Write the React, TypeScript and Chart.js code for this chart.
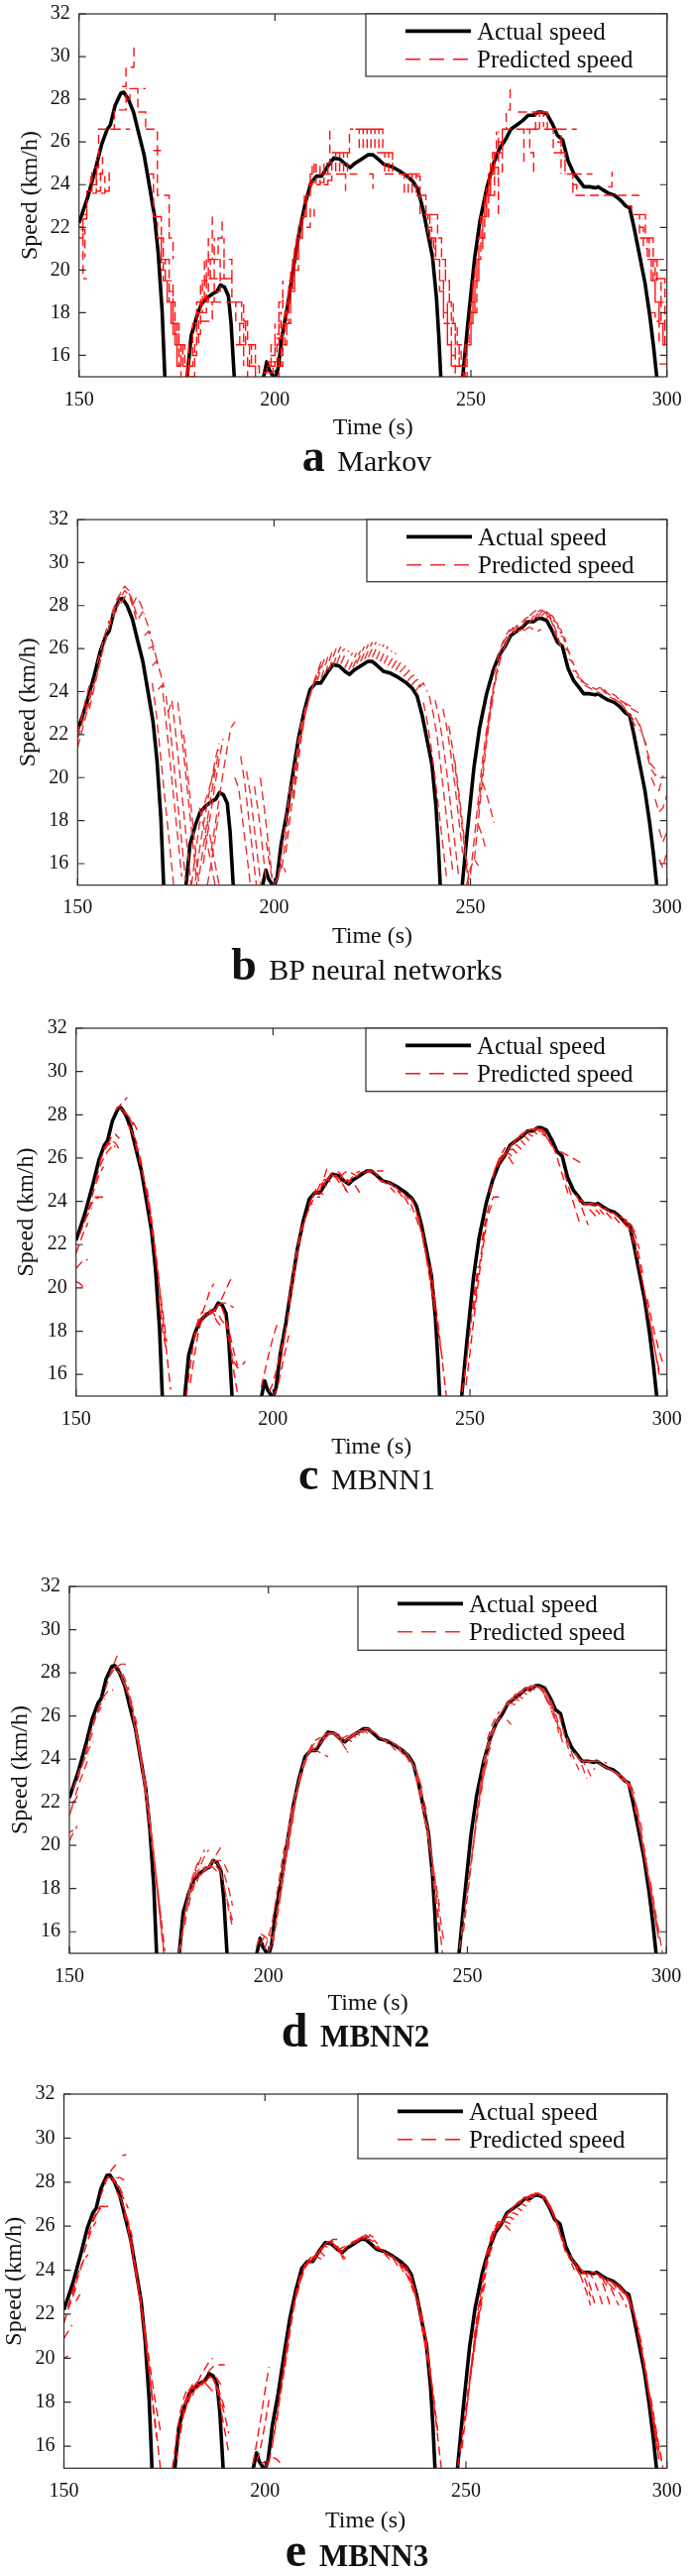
import React, { useEffect, useRef } from 'react';
import { Chart, registerables } from 'chart.js';

Chart.register(...registerables);

// ---------------- DATA ----------------
const actualTime = [150, 152.2, 154.3, 155.8, 157.2, 158, 159.2, 160.7, 161.4, 162.6, 163.9, 165.1, 166.6, 168, 169.2, 170.2, 171.2, 171.9, 173, 176.5, 177.6, 178.6, 180, 181.2, 182.7, 184.2, 185.2, 186.1, 187.1, 188.1, 188.8, 189.6, 190.8, 196, 197.1, 197.9, 198.6, 200, 200.8, 201.8, 203.3, 204.8, 206.2, 207.7, 209.2, 210.6, 211.9, 213.6, 215, 216.5, 218, 219.2, 220.4, 222.1, 223.8, 225, 226.3, 227.8, 229.7, 231.7, 233.7, 235.2, 236.4, 237.7, 238.9, 240.2, 241.2, 241.8, 242.3, 243.3, 246.8, 247.9, 249.2, 250.9, 252.3, 254.1, 255.8, 257.3, 258.8, 260.2, 261.7, 263.2, 264.6, 266, 267.1, 268.1, 269.4, 270.9, 272.1, 273.4, 274.8, 276.3, 277.6, 278.8, 280.3, 281.8, 282.5, 283.7, 285.1, 286.6, 288, 289.5, 290.5, 291.6, 292.9, 294.4, 295.6, 296.6, 297.4, 298.4, 300];
const actualSpeed = [22.2, 23.4, 24.8, 25.9, 26.6, 26.8, 27.7, 28.3, 28.33, 28.0, 27.4, 26.5, 25.4, 23.9, 22.6, 20.8, 18.1, 15.0, 11.5, 11.5, 15.0, 16.9, 17.8, 18.4, 18.7, 18.9, 19.0, 19.3, 19.2, 18.8, 17.5, 15.0, 11.5, 11.5, 15.0, 15.7, 15.3, 14.9, 15.4, 16.9, 18.4, 20.2, 21.8, 23.1, 24.1, 24.4, 24.4, 24.9, 25.25, 25.2, 24.95, 24.8, 25.0, 25.2, 25.4, 25.4, 25.2, 24.95, 24.85, 24.65, 24.4, 24.15, 23.8, 22.9, 21.8, 20.6, 18.7, 16.9, 15.0, 11.5, 11.5, 15.0, 17.5, 20.5, 22.3, 23.9, 25.0, 25.7, 26.1, 26.6, 26.8, 27.0, 27.25, 27.25, 27.4, 27.4, 27.3, 26.8, 26.3, 26.1, 25.1, 24.5, 24.2, 23.9, 23.9, 23.85, 23.9, 23.75, 23.6, 23.5, 23.3, 23.0, 22.9, 22.0, 20.8, 19.4, 17.9, 16.4, 15.0, 11.5, 9.0];

const xTickValues = [150, 200, 250, 300];
const yTickValues = [16, 18, 20, 22, 24, 26, 28, 30, 32];
const legendLabels = ['Actual speed', 'Predicted speed'];
const xAxisTitle = 'Time (s)';
const yAxisTitle = 'Speed (km/h)';
const panelLetters = ['a', 'b', 'c', 'd', 'e'];
const panelNames = ['Markov', 'BP neural networks', 'MBNN1', 'MBNN2', 'MBNN3'];

// predicted segments: [start time, values at 1 s steps]
type Seg = [number, number[]];

const predMarkov: Seg[] = [
  [150, [22.0, 19.6, 19.6]], [150, [21.5, 22.6, 23.2]], [151, [22.4, 23.7, 24.6]], [150.5, [21.9, 20.6]],
  [152.3, [23.7, 24.7]], [153.4, [23.6, 24.5]], [154.5, [23.7, 24.8]], [155.6, [23.6, 24.4]], [156.7, [23.7, 24.6]],
  [153.5, [24.0, 25.2]], [155, [24.5, 25.3]],
  [154, [24.8, 26.6, 26.6, 26.6, 26.6, 26.6, 26.6, 26.6, 26.6, 26.6]],
  [158, [26.6, 27.5, 27.5, 27.5, 28.5]],
  [162, [28.0, 28.5, 28.5, 28.5, 28.5, 28.5]],
  [161, [28.6, 29.5, 29.5, 30.6]],
  [164, [28.5, 27.4, 27.4, 26.6, 26.6, 26.6]],
  [167, [26.6, 26.6, 26.6, 25.6, 25.6]],
  [168, [24.5, 22.5, 21.5, 20.5, 19.5]],
  [169, [25.6, 23.5, 23.5, 23.5, 21.5, 20.5]],
  [170, [22.5, 20.0, 19.5, 19.5, 17.5, 15.5]],
  [170.5, [21.5, 19.5, 18.5, 17.5, 16.5]],
  [171.5, [19.5, 18.5, 17.5, 16.5, 15.5]],
  [172, [20.5, 18.5, 17.0, 15.5, 15.5, 15.5]],
  [173, [19.0, 17.0, 15.5, 15.5]],
  [173.5, [18.5, 17.5, 16.5, 15.5]],
  [174, [17.5, 16.5, 15.0]],
  [174.5, [17.5, 16.5, 15.5, 15.0]],
  [175, [16.5, 15.5, 15.5, 15.0]],
  [176, [16.5, 15.5, 15.0]],
  [177, [15.0, 16.5, 17.5, 18.5, 18.5]],
  [178, [15.5, 17.0, 18.0, 19.0]],
  [178.5, [15.0, 16.5, 18.0, 19.5, 20.5]],
  [179, [16.0, 18.5, 19.5, 20.5, 21.5]],
  [180, [17.0, 18.5, 19.5, 20.5, 22.5]],
  [181, [17.6, 17.6, 17.6, 18.5]],
  [181.5, [18.0, 19.5, 20.5, 21.5]],
  [183.5, [18.5, 20.5, 21.5, 22.5]],
  [185, [19.0, 20.5, 21.5]],
  [182, [18.5, 19.6, 19.6, 19.6, 19.6, 19.6, 19.6, 19.6, 19.6]],
  [184, [18.5, 18.5, 18.5, 18.5, 18.5, 18.5, 18.5]],
  [186, [19.6, 20.5, 20.5, 19.6, 19.6]],
  [188, [19.6, 18.5, 17.5, 16.5, 15.5]],
  [189, [18.5, 18.5, 18.5, 17.6]],
  [190, [16.5, 16.5, 16.5, 16.5, 16.5]],
  [190.5, [18.5, 17.6, 16.5, 15.5]],
  [191, [17.5, 16.0, 15.0]],
  [192, [17.6, 16.5, 15.5, 15.0]],
  [193, [15.5, 15.5, 15.0]],
  [194, [16.5, 15.5, 15.0]],
  [197, [15.2, 15.7, 16.5, 17.5]],
  [198, [15.5, 16.0, 17.0, 18.5, 19.5]],
  [198.5, [15.2, 15.7, 16.8, 18.0]],
  [199, [15.5, 16.5, 18.0, 19.0]],
  [200, [15.0, 16.0, 17.5, 18.5, 19.5, 20.5]],
  [200.5, [15.5, 16.5, 18.0, 19.5, 20.5, 21.5]],
  [201, [15.5, 17.0, 18.5, 20.0, 21.0, 22.0]],
  [202, [16.5, 18.0, 19.5, 21.0, 22.0]],
  [202.5, [17.5, 19.0, 20.5, 21.5, 22.5, 23.5]],
  [203, [17.5, 19.0, 20.5, 21.5, 22.5]],
  [204, [19.0, 20.5, 21.5, 22.5, 23.5, 24.5]],
  [205, [20.0, 21.5, 22.5, 23.5, 24.5]],
  [206, [21.5, 22.5, 23.5, 24.5, 25.0]],
  [207, [22.5, 23.5, 24.5, 25.0]],
  [208, [22.0, 22.9, 22.5]],
  [208.5, [24.0, 25.0]], [209.5, [24.1, 25.0]], [210.5, [24.0, 24.9]], [211.5, [24.1, 25.1]], [212.5, [24.0, 25.0]], [213.5, [24.2, 25.1]],
  [212, [24.5, 24.5, 24.5, 24.5, 24.5, 24.5, 24.5, 24.5, 24.5, 24.5]],
  [213, [25.0, 26.6, 26.6]],
  [218, [25.5, 26.6, 26.6]],
  [220.5, [26.6, 25.5]], [221.5, [26.6, 25.6]], [222.5, [26.6, 25.5]], [223.5, [26.6, 25.5]],
  [224.5, [26.6, 25.6]], [225.5, [26.6, 25.5]], [226.5, [26.6, 25.5]],
  [214.5, [25.5, 24.5]], [215.5, [25.5, 24.6]], [216.5, [25.5, 24.5]], [217.5, [25.5, 24.6]],
  [217, [24.5, 23.7]], [224, [24.5, 23.8]],
  [226, [25.5, 25.5, 25.5, 25.5, 25.0]],
  [227, [25.5, 24.5]], [228, [25.5, 24.6]], [229, [25.5, 24.5]],
  [228, [24.5, 24.5, 24.5, 24.5, 24.5, 24.5, 24.5, 24.5, 24.5, 24.5]],
  [232.0, [24.5, 23.6]], [233.0, [24.5, 23.5]], [234.0, [24.5, 23.6]], [235.0, [24.5, 23.5]], [236.0, [24.4, 23.6]],
  [236, [23.5, 23.5, 23.5, 23.5]],
  [236, [23.5, 22.6, 22.6, 22.6, 22.6, 22.6]],
  [237.5, [23.5, 22.6, 21.5, 20.5]],
  [238, [22.6, 21.5, 21.5, 20.5]],
  [239, [22.0, 21.0, 20.5, 19.5, 18.5]],
  [240, [21.5, 20.5, 19.0, 17.5, 16.5]],
  [240.5, [22.6, 21.5, 20.5, 19.5, 18.5]],
  [241, [20.5, 19.5, 18.5, 17.5, 16.0, 15.0]],
  [242, [19.5, 18.0, 16.5, 15.5, 15.5, 15.5]],
  [242.5, [20.5, 19.5, 18.5, 17.5, 16.5, 15.5]],
  [243, [18.0, 16.5, 15.5]],
  [244, [18.5, 17.5, 16.5, 15.5, 15.5]],
  [245, [17.5, 16.0, 15.5]],
  [247, [15.0, 15.5, 16.5, 18.5]],
  [247.5, [15.0, 16.5, 17.5, 19.5, 20.5]],
  [248, [15.0, 16.5, 18.0, 19.5, 21.5]],
  [249, [16.5, 18.0, 19.5, 21.0, 22.5, 23.5]],
  [249.5, [17.5, 19.5, 20.5, 22.5, 23.5]],
  [250, [18.5, 20.0, 21.5, 22.5, 23.5]],
  [250.5, [18.0, 20.5, 21.5, 22.5, 24.5]],
  [251, [19.5, 21.0, 22.5, 23.5, 24.5, 25.5]],
  [252, [21.5, 22.5, 23.5, 24.5, 25.5, 26.5]],
  [252.5, [22.5, 23.5, 24.5, 25.5, 26.5]],
  [253, [23.0, 24.0, 25.0, 25.5, 25.5]],
  [254, [23.5, 24.5, 25.5, 25.5, 24.5]],
  [255, [23.5, 24.5, 25.5, 26.5]],
  [256, [24.8, 22.6]],
  [257, [26.0, 26.6, 27.5, 28.6]],
  [258, [26.6, 26.6, 26.6, 26.6, 26.6, 26.6, 26.6, 26.6, 26.6, 26.6, 26.6, 26.6, 26.6, 26.6, 26.6, 26.6, 26.6, 26.6, 26.6, 26.6]],
  [262, [27.4, 27.4, 27.4, 27.4, 27.4, 27.4, 27.4, 27.4]],
  [262.5, [26.6, 24.9]], [264, [26.6, 25.5, 24.5]],
  [265.5, [27.4, 26.6]], [266.5, [27.4, 26.6]], [267.5, [27.4, 26.7]], [268.5, [27.4, 26.6]],
  [270, [26.6, 25.5, 25.5, 24.5]],
  [271, [26.6, 26.6, 25.5, 24.5]],
  [272, [26.0, 25.5, 24.5, 24.5]],
  [273, [25.5, 24.5, 24.5, 23.5]],
  [275, [24.5, 23.5, 23.5]],
  [276, [24.5, 24.5, 24.5, 24.5, 24.5, 24.5]],
  [276, [24.0, 23.5, 23.5, 23.5, 23.5, 23.5, 23.5, 23.5, 23.5, 23.5, 23.5, 23.5, 23.5, 23.5, 23.5, 23.5, 23.5, 23.5]],
  [285, [23.9, 24.6]],
  [290, [23.0, 22.6, 22.6, 22.6, 22.6, 22.6]],
  [292, [22.6, 21.5, 21.5, 21.5]],
  [293, [22.0, 21.0, 20.5, 20.5, 19.5]],
  [293.5, [22.6, 21.5, 20.5, 19.5]],
  [294, [21.5, 20.5, 19.5, 18.5, 17.5, 16.5]],
  [295, [20.5, 19.6, 18.5, 17.5, 16.5, 15.6]],
  [295.5, [21.5, 20.5, 19.5, 18.5, 17.5]],
  [296, [19.5, 18.5, 17.5, 16.5, 15.6]],
  [297, [20.5, 20.5, 20.5, 20.5]],
  [297, [19.6, 19.6, 19.6, 19.6]],
  [297.5, [18.5, 17.5, 16.5, 15.6]],
  [298, [15.6, 15.6, 15.6]],
  [298.5, [19.6, 18.5, 17.6]],
  [296, [18.0, 17.6, 16.5]],
];

const predBP: Seg[] = [
  [150, [21.4, 22.1, 22.8, 23.5]], [150, [21.8, 22.4, 23.1, 23.8, 24.4]], [150, [22.0, 22.8, 23.6, 24.3]],
  [152, [23.0, 23.6, 24.2, 24.9, 25.5]], [153, [23.2, 24.0, 24.8, 25.6]],
  [155, [25.3, 26.0, 26.7, 27.3]], [156, [25.6, 26.3, 27.0, 27.5, 27.8]],
  [158, [27.0, 27.8, 28.3, 28.6, 28.4]],
  [159, [27.6, 28.2, 28.6, 28.9, 28.7, 28.2, 27.6]],
  [160, [27.9, 28.4, 28.7, 28.5, 28.0, 27.3]],
  [161, [28.1, 28.4, 28.6, 28.2, 27.6]],
  [164, [28.0, 28.4, 28.1, 27.6]], [165.5, [27.4, 27.7, 27.3, 26.7]], [167, [26.6, 26.8, 26.3, 25.6]],
  [168, [26.0, 26.1, 25.6, 24.9]], [169, [25.2, 25.4, 24.9, 24.2]],
  [169, [24.4, 23.0, 21.2, 19.4, 17.6, 15.8, 14.0]],
  [170.5, [24.1, 24.3, 22.6, 20.8, 19.0, 17.2, 15.4]],
  [172.5, [23.8, 22.4, 20.6, 18.8, 17.0, 15.2]],
  [173, [23.0, 23.6, 22.0, 20.2, 18.4, 16.6, 14.8]],
  [175.5, [23.5, 22.0, 20.2, 18.4, 16.6, 14.8]],
  [177, [22.0, 20.2, 18.4, 16.6, 14.8]],
  [179, [15.0, 16.5, 17.8, 18.6, 19.2, 19.8, 20.5]],
  [180, [15.2, 16.6, 17.8, 18.8, 19.8, 20.8, 21.6]],
  [181, [15.5, 16.8, 18.0, 19.2, 20.3, 21.3]],
  [182, [16.0, 17.3, 18.5, 19.7, 20.8, 21.8]],
  [184, [16.6, 17.8, 19.0, 20.2, 21.3, 22.3, 22.6]],
  [183, [15.0, 16.0, 17.2, 18.4]],
  [181, [18.6, 17.8, 16.9, 16.0, 15.0]], [183, [18.0, 17.0, 16.0, 15.0]],
  [190, [20.0, 19.5, 18.0, 16.5, 15.0]], [191.5, [21.0, 19.8, 18.2, 16.6, 15.0]],
  [193, [20.3, 19.2, 17.6, 16.0, 14.5]], [195, [19.6, 18.4, 16.8, 15.2]],
  [196.5, [20.0, 18.6, 17.0, 15.4]], [198, [17.0, 15.8, 14.8]],
  [200, [15.0, 15.4, 16.0, 15.6]],
  [201, [15.4, 16.6, 18.0, 19.4, 20.0, 20.0]],
  [202, [15.8, 17.2, 18.7, 20.2, 21.5, 22.6]],
  [203, [16.5, 18.0, 19.5, 21.0, 22.3, 23.3]],
  [205, [19.0, 20.5, 21.9, 23.0, 23.8, 24.3]],
  [207, [22.0, 23.0, 23.8, 24.3, 24.7]],
  [208, [23.0, 23.7, 24.3, 24.8, 25.2]],
  [210, [24.4, 24.9, 25.4]], [211, [24.5, 25.1, 25.6]], [212, [24.6, 25.2, 25.8]], [213, [24.8, 25.4, 26.0]],
  [214, [25.0, 25.6, 26.1]], [215, [25.2, 25.7, 26.1]], [216, [25.3, 25.8, 26.0]], [217, [25.3, 25.7, 25.9]],
  [218, [25.1, 25.5, 25.8]], [219, [25.0, 25.4, 25.8]], [220, [25.1, 25.5, 25.9]], [221, [25.3, 25.7, 26.1]],
  [222, [25.4, 25.8, 26.2]], [223, [25.5, 25.9, 26.3]], [224, [25.6, 26.0, 26.3]], [225, [25.6, 26.0, 26.2]],
  [226, [25.5, 25.9, 26.2]], [227, [25.4, 25.8, 26.1]], [228, [25.3, 25.7, 25.9]], [229, [25.2, 25.5, 25.8]],
  [230, [25.1, 25.4, 25.6]], [231, [25.0, 25.3, 25.5]], [232, [24.9, 25.1, 25.3]], [233, [24.7, 24.9, 25.1]],
  [234, [24.5, 24.7, 24.8]], [235, [24.3, 24.5, 24.6]], [236, [24.0, 24.3, 24.4]], [237, [24.2, 24.4, 24.0]],
  [238, [23.5, 22.6, 21.4, 20.0, 18.4, 16.8, 15.2]],
  [239.5, [23.8, 23.0, 21.9, 20.4, 18.8, 17.2, 15.6]],
  [241, [23.6, 22.8, 21.6, 20.2, 18.6, 17.0, 15.4]],
  [243, [23.2, 22.3, 21.1, 19.7, 18.1, 16.5]],
  [244.5, [22.4, 21.3, 19.9, 18.3, 16.7, 15.0]],
  [246, [20.8, 19.4, 17.8, 16.2, 14.6]],
  [249, [15.0, 15.8, 16.2, 15.9]],
  [250, [15.5, 17.2, 19.0, 20.7, 22.1, 23.3]],
  [251, [16.2, 18.0, 19.8, 21.5, 22.9, 24.0]],
  [252, [18.5, 20.2, 21.8, 23.1, 24.2, 25.0]],
  [253, [19.8, 19.3, 18.6, 17.9]], [252, [17.8, 17.3, 16.6]],
  [254, [22.0, 23.2, 24.3, 25.1, 25.7]],
  [255, [23.4, 24.4, 25.2, 25.8, 26.2]],
  [256, [24.8, 25.6, 26.2, 26.6, 26.9]],
  [257, [25.6, 26.1, 26.5, 26.8, 27.0]], [259, [26.2, 26.6, 26.9, 27.1, 27.2]],
  [261, [26.7, 27.0, 27.2, 27.4, 27.5]], [263, [27.0, 27.3, 27.5, 27.7, 27.8]],
  [265, [27.2, 27.5, 27.7, 27.8, 27.7]], [266, [27.3, 27.6, 27.8, 27.7, 27.4]],
  [267, [27.4, 27.7, 27.8, 27.6, 27.2]], [268, [27.5, 27.7, 27.5, 27.1, 26.6]],
  [269, [27.4, 27.5, 27.2, 26.7, 26.1]],
  [264, [26.9, 27.0, 26.9, 26.8, 26.9]], [262, [26.8, 26.9, 26.85, 26.8]],
  [270, [27.6, 27.5, 27.1]], [271, [27.3, 27.2, 26.7]], [272, [27.0, 26.9, 26.3]], [273, [26.6, 26.5, 25.8]],
  [274, [26.0, 25.9, 25.3]], [275, [25.5, 25.4, 24.9]], [276, [25.0, 24.9, 24.6]], [277, [24.7, 24.6, 24.4]],
  [278, [24.5, 24.4, 24.3]], [271, [26.9, 26.5, 26.1]],
  [279, [24.3, 24.2, 24.1, 24.0, 23.9]], [281, [24.2, 24.1, 24.2, 24.1, 23.9]],
  [283, [24.2, 24.0, 23.8, 23.7, 23.6]], [284, [24.1, 23.9, 23.8, 23.6, 23.5, 23.4]],
  [286, [23.9, 23.8, 23.6, 23.5, 23.4, 23.3, 23.2]], [288, [23.6, 23.5, 23.3, 23.2, 23.1, 23.0]],
  [288, [23.5, 23.3, 23.0, 22.8, 22.6]], [289, [23.3, 23.0, 22.7, 22.4, 22.2]],
  [292, [22.8, 22.4, 21.9]], [293, [22.5, 21.9, 21.4]], [294, [21.9, 21.2, 20.6, 20.4]],
  [295, [21.0, 20.4, 20.1, 20.3]], [296, [20.0, 19.6, 19.4, 20.1]], [297, [19.0, 18.4, 18.6, 19.2]],
  [298, [17.6, 17.0, 17.5]], [298, [16.2, 15.8, 16.6]],
];

const predMBNN1: Seg[] = [
  [150, [20.9, 21.1, 21.3, 21.3]], [150, [20.3, 20.2, 20.0]], [150, [21.6, 22.1, 22.6, 23.0]],
  [151, [22.5, 23.0, 23.4, 23.7]], [152, [23.0, 23.5, 23.9, 24.1, 24.2]], [153, [23.6, 24.0, 24.2, 24.2, 24.2]],
  [154, [24.2, 24.8, 25.3, 25.6]], [155, [25.0, 25.6, 26.0, 26.3, 26.5]], [156, [25.8, 26.3, 26.6, 26.7, 26.5]],
  [157, [26.4, 26.7, 26.8, 26.7, 26.4]], [158, [26.6, 27.0, 27.1, 26.9]], [160, [28.2, 28.4, 28.6, 28.8]],
  [161, [28.3, 28.2, 28.0, 27.7, 27.3]], [162, [28.1, 28.0, 27.8, 27.5, 27.1]], [163, [27.6, 27.3, 26.9, 26.4]],
  [164, [27.3, 26.8, 26.2, 25.5]], [165, [26.7, 26.0, 25.2, 24.3, 23.4]],
  [167, [25.3, 24.2, 23.0, 21.7, 20.3, 18.9, 17.5]], [168, [24.6, 23.4, 22.0, 20.4]],
  [170, [21.8, 20.3, 18.6, 17.0, 15.3]], [171, [19.6, 18.0, 17.0]],
  [178, [15.0, 16.4, 17.7, 18.5, 18.9]], [179, [15.6, 16.8, 17.9, 18.6]],
  [180, [17.6, 18.3, 18.8, 19.3, 19.9, 20.2]], [182, [18.5, 18.9, 19.0, 18.8, 18.5]],
  [183, [18.7, 18.9, 18.7, 18.4, 18.2]], [184, [18.8, 19.0, 18.8, 18.5, 18.3]],
  [185, [18.9, 19.2, 19.5, 19.9, 20.3, 20.6]], [186, [19.2, 19.3, 19.3, 19.2, 19.1]],
  [187, [19.1, 18.6, 17.9, 17.1, 16.4]], [188, [18.5, 17.4, 16.6, 16.3, 16.4, 16.6]], [189, [17.5, 16.2, 15.1]],
  [197, [15.4, 16.2, 17.0, 17.7, 18.3]], [199, [15.2, 15.6, 16.3, 17.1, 17.9]], [200, [15.0, 15.3, 16.1, 17.0, 17.8]],
  [202, [16.6, 17.8, 19.0, 20.2, 21.2]], [204, [19.4, 20.6, 21.7, 22.6, 23.2]], [206, [21.4, 22.4, 23.1, 23.6, 23.9]],
  [208, [23.1, 23.7, 24.0, 24.2, 24.2]], [209, [23.8, 24.2, 24.4, 24.4, 24.3]], [210, [24.2, 24.6, 24.8, 24.8, 24.6]],
  [211, [24.4, 24.8, 25.0, 25.0, 24.8]], [212, [24.5, 25.1, 25.7]], [213, [24.8, 25.1, 25.2, 25.1, 24.8]],
  [214, [25.0, 25.3, 25.4, 25.3, 25.0]], [215, [25.2, 25.2, 25.0, 24.7, 24.3]], [216, [25.2, 25.0, 24.7, 24.4]],
  [217, [25.1, 25.3, 25.4, 25.3, 25.2]], [218, [24.9, 25.0, 24.9, 24.7, 24.4]], [219, [24.8, 25.1, 25.3, 25.4]],
  [221, [25.1, 25.3, 25.4, 25.4, 25.3]], [223, [25.3, 25.4, 25.4, 25.4, 25.4, 25.4]], [225, [25.4, 25.3, 25.1, 24.9]],
  [227, [25.0, 24.9, 24.8, 24.6, 24.4]], [229, [24.9, 24.8, 24.6, 24.4, 24.2]], [231, [24.7, 24.5, 24.3, 24.0, 23.6]],
  [233, [24.4, 24.2, 23.9, 23.4, 22.9]], [235, [24.2, 23.8, 23.1, 22.3, 21.4]], [237, [23.3, 22.4, 21.3, 20.2, 19.1]],
  [238, [22.5, 21.5, 20.4, 19.2, 17.9, 16.7]], [240, [21.0, 19.6, 18.2, 16.6, 15.0]],
  [248, [15.2, 16.5, 18.0, 19.6, 21.0]], [249, [15.5, 17.0, 18.6, 20.1, 21.5, 22.7]],
  [251, [19.0, 20.5, 21.8, 22.9, 23.6, 24.0]], [253, [22.2, 23.2, 23.9, 24.2, 24.2, 24.2]],
  [255, [24.4, 25.2, 25.8, 26.2, 26.5]], [256, [25.3, 25.8, 26.1, 26.2, 26.0, 25.7]],
  [257, [25.6, 26.0, 26.2, 26.2, 26.0]], [258, [25.9, 26.2, 26.4, 26.4, 26.2]], [259, [26.2, 26.5, 26.6, 26.6, 26.4]],
  [260, [26.5, 26.7, 26.8, 26.8, 26.6]], [261, [26.7, 26.9, 27.0, 27.0, 26.8]], [262, [26.9, 27.1, 27.2, 27.1, 27.0]],
  [263, [27.0, 27.2, 27.3, 27.3, 27.1]], [264, [27.2, 27.3, 27.35, 27.3, 27.2]], [265, [27.3, 27.35, 27.3, 27.2, 27.0]],
  [266, [27.3, 27.4, 27.3, 27.1, 26.8]], [267, [27.4, 27.3, 27.1, 26.8, 26.5]], [268, [27.4, 27.2, 26.9, 26.5, 26.2]],
  [273, [26.3, 26.2, 26.1, 26.0, 25.9, 25.8]], [271, [26.6, 26.1, 25.5, 24.9, 24.3]], [274, [25.3, 24.7, 24.1, 23.5, 22.9]],
  [277, [24.3, 23.9, 23.4, 22.9]], [278, [24.1, 23.9, 23.7, 23.5, 23.3]], [279, [23.9, 23.9, 23.8, 23.6, 23.4]],
  [280, [23.9, 23.9, 23.8, 23.6, 23.4]], [282, [23.9, 23.8, 23.6, 23.4, 23.2]], [284, [23.7, 23.6, 23.4, 23.2, 23.0]],
  [286, [23.5, 23.4, 23.2, 23.0, 22.8]], [288, [23.3, 23.2, 23.1, 22.9, 22.5]], [289, [23.1, 23.0, 22.8, 22.4, 21.8]],
  [290, [22.9, 22.6, 22.1, 21.4, 20.5]], [291, [22.4, 21.8, 21.0, 20.1, 19.1, 18.1]],
  [293, [21.0, 20.1, 19.1, 18.1, 17.1, 16.2]], [295, [19.5, 18.6, 17.8, 17.1, 16.5]], [296, [18.2, 17.1, 16.0]],
];

const predMBNN2: Seg[] = [
  [150, [20.2, 20.6, 20.9]], [150, [20.6, 20.7]], [150, [21.4, 21.9, 22.3]], [150.5, [21.7, 22.3, 22.9, 23.4, 23.9]],
  [151, [22.6, 23.2, 23.7, 24.1]], [152, [23.0, 23.6, 24.1, 24.5, 24.8]], [153, [23.6, 24.2, 24.8, 25.3]],
  [154, [24.3, 25.0, 25.6, 26.1, 26.4]], [155, [25.0, 25.7, 26.2, 26.6, 26.8]], [156, [25.6, 26.2, 26.7, 27.0, 27.2]],
  [157, [26.2, 26.7, 27.0, 27.2, 27.2]], [159, [27.2, 27.8, 28.3, 28.8]], [160, [27.8, 28.1, 28.3, 28.4, 28.4, 28.3]],
  [161, [28.2, 28.3, 28.1, 27.7, 27.2]], [162, [28.1, 27.9, 27.5, 27.0, 26.4]], [163, [27.8, 27.4, 26.9, 26.3, 25.6]],
  [164, [27.4, 26.8, 26.1, 25.2, 24.3]], [165, [26.8, 26.0, 25.0, 23.9, 22.7]], [166, [25.9, 24.9, 23.8, 22.5, 21.1, 19.6]],
  [167, [25.2, 24.0, 22.7, 21.3, 19.8, 18.2, 16.6]], [168, [24.2, 22.9, 21.4, 19.9, 18.3, 16.7, 15.1]],
  [169, [23.1, 21.6, 20.0, 18.3, 16.6]], [170, [21.4, 19.7, 18.0, 16.3, 14.6]], [171, [19.8, 18.0, 16.2, 14.5]],
  [177.5, [15.0, 16.2, 17.4, 18.3]], [178, [15.2, 16.8, 17.9, 18.6, 19.0]], [179, [16.3, 17.6, 18.5, 19.1, 19.4]],
  [180, [17.2, 18.2, 18.9, 19.4, 19.8]], [181, [17.9, 18.6, 19.1, 19.5, 19.8]], [182, [18.3, 18.8, 19.0, 19.0, 18.9]],
  [183, [18.6, 18.9, 19.0, 19.0, 18.8]], [184, [18.8, 19.0, 19.1, 19.0, 18.8]], [185, [19.0, 19.3, 19.6, 19.9, 20.0]],
  [186, [19.2, 19.3, 19.3, 19.1, 18.7]], [187, [19.2, 19.0, 18.6, 18.0, 17.2]], [188, [18.8, 18.0, 17.2, 16.5]],
  [189, [18.0, 17.0, 16.2]],
  [197, [15.3, 15.9, 15.8, 15.6]], [198, [15.4, 15.8, 15.9, 15.7, 15.5]], [199, [15.2, 15.7, 16.5, 17.6, 18.8, 19.9]],
  [200, [15.0, 15.6, 16.6, 17.8, 19.0]], [201, [15.4, 16.4, 17.6, 18.9, 20.2, 21.4]], [202, [16.8, 18.0, 19.4, 20.7, 21.9]],
  [203, [17.6, 19.0, 20.4, 21.6, 22.6]], [204, [18.9, 20.3, 21.5, 22.5, 23.3]], [205, [19.8, 21.2, 22.4, 23.3, 23.9]],
  [206, [21.0, 22.3, 23.2, 23.9, 24.3]], [207, [22.3, 23.2, 23.9, 24.3, 24.5]], [208, [23.0, 23.7, 24.2, 24.5, 24.6]],
  [209, [23.8, 24.3, 24.6, 24.8, 24.9]], [211, [24.4, 24.4, 24.3, 24.2, 24.1]], [210, [24.3, 24.7, 24.9, 25.0, 25.0]],
  [212, [24.5, 24.9, 25.1, 25.2, 25.2, 25.2]], [213, [24.7, 25.0, 25.2, 25.2, 25.2]], [214, [24.9, 25.1, 25.2, 25.2, 25.1]],
  [215, [25.2, 25.2, 25.1, 24.9, 24.6, 24.3]], [216, [25.2, 25.1, 24.9, 24.6, 24.3]], [217, [25.1, 25.0, 25.0, 24.9, 24.8]],
  [218, [24.9, 25.0, 25.1, 25.1, 25.0]], [219, [24.8, 25.0, 25.2, 25.2, 25.1]], [220, [24.9, 25.1, 25.3, 25.3, 25.2]],
  [221, [25.0, 25.2, 25.3, 25.3, 25.2]], [222, [25.2, 25.3, 25.3, 25.3, 25.2]], [224, [25.4, 25.4, 25.3, 25.2, 25.0]],
  [226, [25.3, 25.2, 25.0, 24.9, 24.7]], [228, [25.0, 24.9, 24.8, 24.6, 24.4]], [230, [24.9, 24.8, 24.6, 24.4, 24.2]],
  [232, [24.7, 24.5, 24.3, 24.0, 23.7]], [234, [24.4, 24.2, 23.9, 23.5, 23.0]], [235, [24.2, 23.9, 23.5, 23.0, 22.4]],
  [236, [23.9, 23.4, 22.8, 22.1, 21.4]], [237, [23.2, 22.4, 21.5, 20.6, 19.6]], [238, [22.6, 21.6, 20.5, 19.4, 18.3, 17.2]],
  [239, [21.8, 20.7, 19.5, 18.2, 16.9, 15.6]], [240, [20.9, 19.4, 17.8, 16.2, 14.6]], [241, [19.0, 17.4, 15.8]],
  [248, [15.2, 16.6, 18.0, 19.4, 20.7]], [249, [16.0, 17.6, 19.2, 20.7, 22.0, 23.0]], [250, [17.8, 19.4, 20.9, 22.2, 23.2, 23.9]],
  [251, [19.4, 20.9, 22.2, 23.2, 24.0]], [252, [21.0, 22.4, 23.4, 24.1, 24.7]], [253, [22.6, 23.6, 24.4, 25.0, 25.5]],
  [254, [23.8, 24.6, 25.2, 25.6, 25.9]], [255, [24.9, 25.5, 25.9, 26.2]], [257, [25.7, 25.9, 25.9, 25.8, 25.6]],
  [258, [26.0, 26.3, 26.5, 26.6, 26.5]], [259, [26.3, 26.6, 26.8, 26.8, 26.7]], [260, [26.5, 26.8, 26.9, 26.9, 26.8]],
  [261, [26.7, 27.0, 27.1, 27.1, 27.0]], [262, [26.9, 27.1, 27.2, 27.2, 27.1]], [263, [27.0, 27.2, 27.3, 27.3, 27.2]],
  [264, [27.2, 27.3, 27.4, 27.4, 27.3]], [265, [27.2, 27.4, 27.4, 27.3, 27.1]], [266, [27.3, 27.4, 27.3, 27.1, 26.8]],
  [267, [27.4, 27.3, 27.1, 26.7, 26.3]], [268, [27.4, 27.2, 26.8, 26.3, 25.8]], [269, [27.3, 27.0, 26.5, 25.9, 25.2]],
  [270, [27.0, 26.6, 26.0, 25.4, 24.7]], [271, [26.7, 26.2, 25.6, 24.9]], [273, [26.1, 25.4, 24.7, 24.1]],
  [275, [25.0, 24.4, 23.9, 23.5]], [277, [24.3, 24.0, 23.6, 23.1]], [278, [24.0, 23.9, 23.6, 23.2]],
  [279, [23.9, 23.9, 23.8, 23.5]], [280, [23.9, 23.9, 23.9, 23.8, 23.7]], [281, [23.9, 23.9, 23.9, 23.9, 23.8]],
  [283, [23.8, 23.7, 23.6, 23.5, 23.4]], [284, [23.7, 23.6, 23.5, 23.4, 23.2]], [285, [23.6, 23.5, 23.4, 23.2, 23.0]],
  [286, [23.5, 23.4, 23.3, 23.1, 22.9]], [287, [23.4, 23.3, 23.2, 23.0, 22.7, 22.4]], [288, [23.3, 23.2, 23.0, 22.8, 22.4]],
  [289, [23.1, 22.9, 22.6, 22.1, 21.5]], [290, [22.9, 22.6, 22.1, 21.4, 20.6]], [291, [22.6, 22.0, 21.2, 20.3, 19.3]],
  [292, [21.8, 21.0, 20.1, 19.1, 18.0]], [293, [21.0, 20.0, 19.0, 17.9, 16.8, 15.7]], [294, [20.0, 19.0, 17.9, 16.8, 15.7]],
  [295, [19.2, 18.1, 17.0, 15.9]], [296, [18.3, 17.2, 16.1, 15.0]],
];

const predMBNN3: Seg[] = [
  [150, [20.0, 20.1]], [150, [20.9, 21.2, 21.5]], [150, [21.6, 22.2, 22.7, 23.2]], [151, [22.3, 22.9, 23.4]],
  [153, [22.6, 22.9]], [152, [23.0, 23.6, 24.1, 24.5]], [153, [23.4, 24.0, 24.5, 24.7]],
  [155, [24.8, 25.4, 25.9, 26.2]], [156, [25.6, 26.1, 26.5, 26.7]], [157, [26.2, 26.6, 26.9, 26.9, 26.8]],
  [158, [26.5, 26.8, 26.9, 26.9]], [159, [27.3, 27.8, 28.3, 28.6, 28.8]], [160, [28.0, 28.2, 28.2, 28.2, 28.2, 28.1]],
  [164.5, [29.2, 29.25]],
  [161, [28.2, 28.2, 28.0, 27.7, 27.3]], [162, [28.1, 27.9, 27.6, 27.2, 26.8]], [163, [27.6, 27.3, 26.8, 26.2, 25.5]],
  [164, [27.3, 26.8, 26.1, 25.2]], [165, [26.6, 25.8, 24.8, 23.7, 22.6]], [166, [25.8, 24.9, 23.8, 22.6, 21.3, 20.0]],
  [167, [25.1, 23.9, 22.6, 21.2, 19.7, 18.2]], [168, [24.1, 22.7, 21.2, 19.6, 18.0, 16.4]],
  [170, [21.5, 20.2, 18.9, 17.7, 16.7]], [169, [22.9, 21.4, 19.8, 18.2, 16.6, 15.0]],
  [177, [15.0, 16.4, 17.6, 18.3, 18.7]], [178, [15.4, 16.8, 17.9, 18.5, 18.8]], [179, [16.6, 17.7, 18.4, 18.8, 18.9]],
  [180, [17.5, 18.2, 18.7, 18.8, 18.8, 18.7]], [181, [18.0, 18.6, 18.9, 19.0, 18.9, 18.7]],
  [182, [18.3, 18.8, 19.2, 19.5, 19.8, 20.0]], [183, [18.6, 18.8, 18.8, 18.7, 18.5]],
  [184, [18.8, 19.1, 19.4, 19.6, 19.7, 19.7, 19.7]], [185, [18.9, 19.1, 19.2, 19.1, 18.8]],
  [186, [19.2, 19.1, 18.8, 18.3, 17.7]], [187, [19.1, 18.7, 18.1, 17.4, 16.6]], [188, [18.7, 17.7, 16.7, 15.7]],
  [197, [15.2, 16.2, 17.3, 18.5, 19.6]], [198, [15.3, 16.0, 17.0, 18.1]], [199, [15.2, 15.3, 15.3, 15.2]],
  [200, [15.0, 15.3, 15.5, 15.4, 15.2]], [201, [15.3, 16.2, 17.3, 18.5, 19.7, 20.8]], [202, [16.3, 17.5, 18.8, 20.0, 21.2]],
  [203, [17.2, 18.6, 20.0, 21.2, 22.3, 23.1]], [204, [18.5, 19.9, 21.2, 22.3, 23.2]], [205, [19.6, 21.0, 22.2, 23.2, 23.9]],
  [206, [20.9, 22.1, 23.1, 23.8, 24.3]], [207, [22.1, 23.0, 23.7, 24.2, 24.4]], [208, [22.9, 23.6, 24.1, 24.4, 24.6, 24.6]],
  [209, [23.7, 24.2, 24.5, 24.7, 24.8]], [210, [24.1, 24.4, 24.6, 24.6, 24.5]], [211, [24.3, 24.6, 24.8, 24.8, 24.6]],
  [212, [24.4, 24.8, 25.0, 25.1, 25.0]], [213, [24.7, 25.0, 25.2, 25.3, 25.3]], [214, [24.9, 25.2, 25.3, 25.4, 25.4]],
  [215, [25.2, 25.3, 25.3, 25.1, 24.8]], [216, [25.2, 25.2, 25.0, 24.7, 24.3]], [217, [25.1, 25.0, 24.8, 24.5]],
  [218, [24.9, 25.0, 25.1, 25.1]], [219, [24.8, 25.0, 25.2, 25.3, 25.3]], [221, [25.1, 25.3, 25.4, 25.5, 25.5]],
  [222, [25.2, 25.4, 25.5, 25.6, 25.5]], [223, [25.3, 25.5, 25.6, 25.6, 25.5]], [224, [25.4, 25.5, 25.5, 25.4, 25.2]],
  [225, [25.4, 25.4, 25.3, 25.1, 24.9]], [227, [25.1, 25.0, 24.9, 24.7, 24.5]], [229, [24.9, 24.8, 24.7, 24.5, 24.2]],
  [231, [24.7, 24.6, 24.4, 24.1, 23.7]], [233, [24.4, 24.2, 23.9, 23.5, 23.0]], [234, [24.3, 24.0, 23.6, 23.1, 22.5]],
  [235, [24.2, 23.8, 23.2, 22.5, 21.7]], [236, [23.9, 23.3, 22.5, 21.6, 20.6]], [237, [23.3, 22.5, 21.5, 20.4, 19.3, 18.2]],
  [238, [22.7, 21.8, 20.7, 19.4, 18.0, 16.6]], [239, [22.0, 20.9, 19.6, 18.2, 16.7]], [240, [21.0, 19.6, 18.0, 16.4, 14.8]],
  [248, [15.1, 16.4, 17.8, 19.2, 20.5, 21.7]], [249, [15.9, 17.4, 18.9, 20.3, 21.6, 22.6]], [250, [17.4, 19.0, 20.4, 21.7, 22.8, 23.6]],
  [251, [19.2, 20.7, 22.0, 23.1, 23.9]], [252, [20.9, 22.2, 23.3, 24.1, 24.7]], [253, [22.2, 23.3, 24.2, 24.8, 25.3]],
  [254, [23.5, 24.4, 25.1, 25.6, 25.9]], [255, [24.6, 25.3, 25.8, 26.1, 26.2]], [256, [25.4, 25.9, 26.2, 26.2, 26.0, 25.8]],
  [257, [25.7, 26.0, 26.2, 26.2, 26.1]], [258, [25.9, 26.2, 26.4, 26.4, 26.3]], [259, [26.2, 26.5, 26.6, 26.6, 26.5]],
  [260, [26.5, 26.7, 26.8, 26.8, 26.7]], [261, [26.7, 26.9, 27.0, 27.0, 26.9]], [262, [26.9, 27.1, 27.2, 27.2, 27.1]],
  [263, [27.0, 27.2, 27.3, 27.3, 27.3]], [264, [27.2, 27.3, 27.4, 27.5, 27.5]], [265, [27.2, 27.4, 27.5, 27.5, 27.4]],
  [266, [27.3, 27.4, 27.5, 27.4, 27.2]], [267, [27.4, 27.5, 27.4, 27.2, 26.9]], [268, [27.4, 27.4, 27.2, 26.9, 26.5]],
  [269, [27.3, 27.2, 26.9, 26.5, 26.0]], [270, [27.1, 26.8, 26.4, 25.9, 25.3]], [271, [26.8, 26.4, 25.9, 25.3]],
  [272, [26.4, 25.9, 25.3, 24.7]], [274, [25.5, 24.9, 24.4, 24.0]], [276, [24.7, 24.2, 23.9, 23.6]],
  [277, [24.4, 24.0, 23.5, 23.0, 22.4]], [278, [24.2, 23.9, 23.4, 22.8]], [279, [24.0, 23.8, 23.2, 22.5]],
  [280, [23.9, 23.8, 23.5, 23.0, 22.4]], [281, [23.9, 23.9, 23.8, 23.6, 23.3]], [282, [23.9, 23.8, 23.4, 22.9, 22.3]],
  [283, [23.8, 23.7, 23.5, 23.3, 23.1]], [284, [23.7, 23.5, 23.2, 22.8, 22.4]], [285, [23.6, 23.5, 23.4, 23.2, 23.0]],
  [286, [23.5, 23.3, 23.0, 22.7, 22.3]], [287, [23.4, 23.3, 23.1, 22.9, 22.6]], [288, [23.3, 23.1, 22.8, 22.4, 22.0]],
  [289, [23.1, 22.8, 22.4, 21.9, 21.3]], [290, [22.9, 22.5, 21.9, 21.2, 20.4]], [291, [22.5, 21.9, 21.1, 20.2, 19.2]],
  [292, [21.8, 21.0, 20.1, 19.0, 17.9]], [293, [21.0, 20.0, 18.9, 17.8, 16.6, 15.5]], [294, [20.0, 19.0, 17.8, 16.6, 15.4]],
  [295, [19.1, 18.0, 16.9, 15.8]], [296, [18.2, 17.1, 16.0, 15.0]], [297, [17.0, 16.0, 15.1]],
];

const predictions = [predMarkov, predBP, predMBNN1, predMBNN2, predMBNN3];

// ---------------- LAYOUT (positions / styles only) ----------------
const LAYOUT = [
  { L: 79.7, R: 678.4, T: 9.3, B: 380, xTitleOff: 51.2, yTitleX: 31, legendLeft: 369, legendH: 63, titleBase: 476, titleX: 370, letterSize: 46, nameSize: 30, bold: false, red: '#ff1010', stepped: true },
  { L: 78.3, R: 682.7, T: 519, B: 892.7, xTitleOff: 51.8, yTitleX: 29, legendLeft: 370, legendH: 62.7, titleBase: 989, titleX: 370, letterSize: 46, nameSize: 30, bold: false, red: '#e83030', stepped: false },
  { L: 76.7, R: 682.1, T: 1032, B: 1408, xTitleOff: 51, yTitleX: 26.8, legendLeft: 369, legendH: 63.7, titleBase: 1502.7, titleX: 370, letterSize: 46, nameSize: 30, bold: false, red: '#ff1010', stepped: false },
  { L: 70, R: 672.2, T: 1595, B: 1970, xTitleOff: 50.5, yTitleX: 20.5, legendLeft: 361, legendH: 64.3, titleBase: 2064, titleX: 358.5, letterSize: 48, nameSize: 31, bold: true, red: '#e83030', stepped: false },
  { L: 64.5, R: 678, T: 2107.3, B: 2489.3, xTitleOff: 52.5, yTitleX: 14.7, legendLeft: 361, legendH: 65, titleBase: 2588, titleX: 360, letterSize: 48, nameSize: 31, bold: true, red: '#ff1010', stepped: false },
];

const SERIF = "'Liberation Serif', 'Times New Roman', serif";
const W = 699;

function buildPred(segs: Seg[]) {
  const pts: { x: number; y: number | null }[] = [];
  segs.forEach(([t0, vals]) => {
    vals.forEach((v, i) => pts.push({ x: t0 + i, y: v }));
    pts.push({ x: t0 + vals.length - 1, y: null });
  });
  return pts;
}

function Panel({ idx }: { idx: number }) {
  const ref = useRef<HTMLCanvasElement | null>(null);
  const lay = LAYOUT[idx];
  const padTop = 16;
  const canvasTop = Math.floor(lay.T - padTop);
  const topPad = lay.T - canvasTop;
  const xScaleH = lay.xTitleOff + 14.4;
  const canvasH = Math.ceil(lay.B + xScaleH - canvasTop);
  const xH = canvasH - (lay.B - canvasTop);

  useEffect(() => {
    const boxPlugin = {
      id: 'matlabBox' + idx,
      afterDatasetsDraw(chart: any) {
        const { ctx, chartArea: a, scales } = chart;
        ctx.save();
        ctx.strokeStyle = '#2b2b2b';
        ctx.lineWidth = 1.2;
        ctx.setLineDash([]);
        ctx.strokeRect(a.left, a.top, a.right - a.left, a.bottom - a.top);
        const tl = 7;
        ctx.beginPath();
        xTickValues.forEach((v) => {
          const px = scales.x.getPixelForValue(v);
          ctx.moveTo(px, a.bottom); ctx.lineTo(px, a.bottom - tl);
          ctx.moveTo(px, a.top); ctx.lineTo(px, a.top + tl);
        });
        yTickValues.forEach((v) => {
          const py = scales.y.getPixelForValue(v);
          ctx.moveTo(a.left, py); ctx.lineTo(a.left + tl, py);
          ctx.moveTo(a.right, py); ctx.lineTo(a.right - tl, py);
        });
        ctx.stroke();

        // legend box
        const lx = lay.legendLeft;
        const ly = a.top;
        const lw = a.right - lx;
        const lh = lay.legendH;
        ctx.fillStyle = '#ffffff';
        ctx.fillRect(lx, ly, lw, lh);
        ctx.strokeStyle = '#2b2b2b';
        ctx.lineWidth = 1.2;
        ctx.strokeRect(lx, ly, lw, lh);
        ctx.lineWidth = 3.6;
        ctx.strokeStyle = '#000';
        ctx.beginPath();
        ctx.moveTo(lx + 40, ly + 17.4); ctx.lineTo(lx + 106, ly + 17.4);
        ctx.stroke();
        ctx.lineWidth = 1.4;
        ctx.strokeStyle = lay.red;
        ctx.setLineDash([15, 9]);
        ctx.beginPath();
        ctx.moveTo(lx + 40, ly + 45.7); ctx.lineTo(lx + 106, ly + 45.7);
        ctx.stroke();
        ctx.setLineDash([]);
        ctx.fillStyle = '#111';
        ctx.font = `25px ${SERIF}`;
        ctx.textBaseline = 'alphabetic';
        ctx.textAlign = 'left';
        ctx.fillText(legendLabels[0], lx + 112, ly + 25.7);
        ctx.fillText(legendLabels[1], lx + 112, ly + 54);
        ctx.restore();
      },
    };

    const actualData = actualTime.map((t, i) => ({ x: t, y: actualSpeed[i] }));
    const chart = new Chart(ref.current as HTMLCanvasElement, {
      type: 'line',
      data: {
        datasets: [
          {
            label: legendLabels[0],
            data: actualData,
            borderColor: '#000',
            borderWidth: 3.6,
            pointRadius: 0,
            tension: 0,
            order: 2,
            borderJoinStyle: 'round',
          } as any,
          {
            label: legendLabels[1],
            data: buildPred(predictions[idx]),
            borderColor: lay.red,
            borderWidth: 1.4,
            borderDash: [9, 5],
            pointRadius: 0,
            tension: 0,
            spanGaps: false,
            stepped: lay.stepped,
            order: 1,
          } as any,
        ],
      },
      options: {
        responsive: false,
        animation: false,
        devicePixelRatio: 1,
        events: [],
        layout: { padding: { top: topPad, right: W - lay.R, left: 0, bottom: 0 } },
        plugins: { legend: { display: false }, tooltip: { enabled: false }, title: { display: false } },
        scales: {
          x: {
            type: 'linear',
            min: 150,
            max: 300,
            grid: { display: false, drawTicks: false },
            border: { display: false },
            afterBuildTicks: (s: any) => { s.ticks = xTickValues.map((v) => ({ value: v })); },
            afterFit: (s: any) => { s.height = xH; },
            ticks: {
              autoSkip: false,
              maxRotation: 0,
              padding: 11.3,
              color: '#111',
              font: { family: SERIF, size: 20 },
              callback: (v: any) => String(v),
            },
            title: {
              display: true,
              text: xAxisTitle,
              color: '#111',
              font: { family: SERIF, size: 24 },
              padding: 0,
            },
          },
          y: {
            type: 'linear',
            min: 15,
            max: 32,
            grid: { display: false, drawTicks: false },
            border: { display: false },
            afterBuildTicks: (s: any) => { s.ticks = yTickValues.map((v) => ({ value: v })); },
            afterFit: (s: any) => { s.width = lay.L; },
            ticks: {
              autoSkip: false,
              padding: 9,
              color: '#111',
              font: { family: SERIF, size: 20 },
              callback: (v: any) => String(v),
            },
            title: {
              display: true,
              text: yAxisTitle,
              color: '#111',
              font: { family: SERIF, size: 24 },
              padding: { top: lay.yTitleX - 14.4, bottom: 0 },
            },
          },
        },
      } as any,
      plugins: [boxPlugin],
    });
    return () => chart.destroy();
  }, []);

  return (
    <>
      <canvas
        ref={ref}
        width={W}
        height={canvasH}
        style={{ position: 'absolute', left: 0, top: canvasTop, width: W, height: canvasH }}
      />
      <div
        style={{
          position: 'absolute',
          left: lay.titleX,
          top: lay.titleBase - 0.8375 * lay.letterSize,
          transform: 'translateX(-50%)',
          whiteSpace: 'nowrap',
          fontFamily: SERIF,
          fontSize: lay.letterSize,
          lineHeight: `${lay.letterSize}px`,
          color: '#111',
        }}
      >
        <span style={{ fontWeight: 'bold' }}>{panelLetters[idx]}</span>
        <span style={{ fontSize: lay.nameSize, fontWeight: lay.bold ? 'bold' : 'normal', marginLeft: 5 }}>{' ' + panelNames[idx]}</span>
      </div>
    </>
  );
}

export default function App() {
  return (
    <div style={{ position: 'absolute', left: 0, top: 0, width: W, height: 2598, background: '#fff', overflow: 'hidden' }}>
      {LAYOUT.map((_, i) => (
        <Panel key={i} idx={i} />
      ))}
    </div>
  );
}
